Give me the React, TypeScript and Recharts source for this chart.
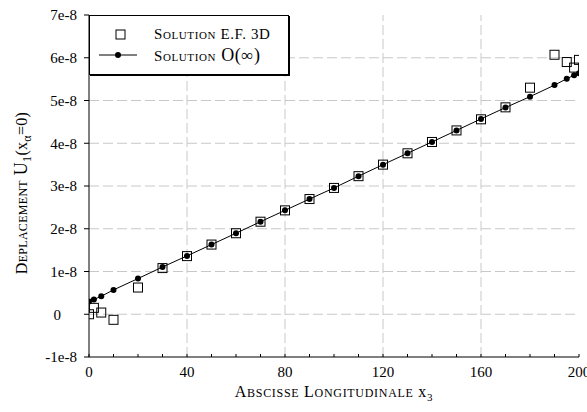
import React from 'react';
import { ComposedChart, Line, Scatter, XAxis, YAxis, ReferenceLine, Legend, Label } from 'recharts';

// abscissa positions (x3) shared by both series
const xPositions = [0, 2, 5, 10, 20, 30, 40, 50, 60, 70, 80, 90, 100, 110, 120, 130, 140, 150, 160, 170, 180, 190, 195, 198, 200];
// values in units of 1e-8
const solutionInf = [0.30, 0.345, 0.42, 0.57, 0.835, 1.105, 1.365, 1.63, 1.895, 2.165, 2.43, 2.695, 2.955, 3.23, 3.50, 3.765, 4.03, 4.30, 4.57, 4.835, 5.09, 5.36, 5.51, 5.59, 5.64];
const solutionFE = [0.0, 0.15, 0.04, -0.13, 0.625, 1.08, 1.36, 1.63, 1.895, 2.165, 2.43, 2.695, 2.955, 3.23, 3.50, 3.765, 4.03, 4.30, 4.56, 4.84, 5.30, 6.07, 5.90, 5.77, 5.95];

const xTickLabels = [0, 40, 80, 120, 160, 200];
const xMinorTicks = [0, 10, 20, 30, 40, 50, 60, 70, 80, 90, 100, 110, 120, 130, 140, 150, 160, 170, 180, 190, 200];
const yTickLabels = [-1, 0, 1, 2, 3, 4, 5, 6, 7];
const yMinorTicks = [-1, -0.75, -0.5, -0.25, 0, 0.25, 0.5, 0.75, 1, 1.25, 1.5, 1.75, 2, 2.25, 2.5, 2.75, 3, 3.25, 3.5, 3.75, 4, 4.25, 4.5, 4.75, 5, 5.25, 5.5, 5.75, 6, 6.25, 6.5, 6.75, 7];
const xGrid = [40, 80, 120, 160];
const yGrid = [0, 1, 2, 3, 4, 5, 6];

const lineData = xPositions.map((x, i) => ({ x, y: solutionInf[i] }));
const feData = xPositions.map((x, i) => ({ x, y: solutionFE[i] }));

const FONT = '"Liberation Serif", "Times New Roman", Times, serif';
const GRID = '#c8c8c8';

const XTick = (props: any) => {
  const { x, y, payload } = props;
  if (!xTickLabels.includes(payload.value)) return <g />;
  return (
    <text x={x} y={y} dy="0.71em" textAnchor="middle" fontSize={15} fontFamily={FONT} fill="#000">
      {payload.value}
    </text>
  );
};

const YTick = (props: any) => {
  const { x, y, payload } = props;
  const v = payload.value;
  const label = v === 0 ? '0' : `${v}e-8`;
  return (
    <text x={x} y={y} dx={v === 0 ? -16 : 0} dy="0.35em" textAnchor="end" fontSize={15} fontFamily={FONT} fill="#000">
      {label}
    </text>
  );
};

const XTitle = (props: any) => {
  const vb = props.viewBox || { x: 0, y: 0, width: 0, height: 0 };
  return (
    <text x={vb.x + vb.width / 2} y={vb.y + 40} textAnchor="middle" fontFamily={FONT} fontSize={16} fill="#000" letterSpacing={0.7}>
      <tspan>A</tspan>
      <tspan fontSize={12}>BSCISSE</tspan>
      <tspan> L</tspan>
      <tspan fontSize={12}>ONGITUDINALE</tspan>
      <tspan> x</tspan>
      <tspan fontSize={11} dy={4}>3</tspan>
    </text>
  );
};

const YTitle = (props: any) => {
  const vb = props.viewBox || { x: 0, y: 0, width: 0, height: 0 };
  const cx = vb.x + 27;
  const cy = vb.y + vb.height / 2 + 7;
  return (
    <text transform={`translate(${cx},${cy}) rotate(-90)`} textAnchor="middle" fontFamily={FONT} fontSize={16} fill="#000" letterSpacing={0.3}>
      <tspan>D</tspan>
      <tspan fontSize={12}>EPLACEMENT</tspan>
      <tspan fontSize={18}> U</tspan>
      <tspan fontSize={12} dy={4}>1</tspan>
      <tspan fontSize={16} dy={-4}>(x</tspan>
      <tspan fontSize={12} dy={4}>α</tspan>
      <tspan fontSize={16} dy={-4}>=0)</tspan>
    </text>
  );
};

const LegendBox = () => (
  <div
    style={{
      width: 200,
      height: 60,
      border: '1px solid #000',
      boxShadow: '1px 1px 0 #000',
      background: '#fff',
      boxSizing: 'border-box',
    }}
  >
    <svg width={198} height={58} style={{ display: 'block' }}>
      <rect x={26} y={14} width={9} height={9} fill="none" stroke="#000" strokeWidth={1} />
      <line x1={9} y1={39} x2={47} y2={39} stroke="#000" strokeWidth={1} />
      <circle cx={28} cy={39} r={3} fill="#000" />
      <text x={64} y={23} fontFamily={FONT} fontSize={15} fill="#000" letterSpacing={0.6}>
        <tspan>S</tspan>
        <tspan fontSize={11}>OLUTION</tspan>
        <tspan> E.F. 3D</tspan>
      </text>
      <text x={64} y={45} fontFamily={FONT} fontSize={15} fill="#000" letterSpacing={0.6}>
        <tspan>S</tspan>
        <tspan fontSize={11}>OLUTION</tspan>
        <tspan fontSize={18}> O(</tspan>
        <tspan fontSize={17}>∞</tspan>
        <tspan fontSize={18}>)</tspan>
      </text>
    </svg>
  </div>
);

export default function App() {
  return (
    <div style={{ position: 'absolute', left: 0, top: 0, width: 587, height: 412, overflow: 'hidden', background: '#fff' }}>
      <ComposedChart width={587} height={412} margin={{ top: 15, right: 8, bottom: 0, left: 0 }}>
        <XAxis
          xAxisId="x"
          dataKey="x"
          type="number"
          domain={[0, 200]}
          allowDataOverflow
          ticks={xMinorTicks}
          interval={0}
          tickSize={-3}
          tickMargin={12}
          tick={<XTick />}
          height={55}
          axisLine={{ stroke: '#000' }}
          tickLine={{ stroke: '#000' }}
        >
          <Label content={<XTitle />} />
        </XAxis>
        <XAxis
          xAxisId="top"
          orientation="top"
          type="number"
          domain={[0, 200]}
          allowDataOverflow
          height={0}
          tick={false}
          tickLine={false}
          axisLine={{ stroke: '#000' }}
        />
        <YAxis
          yAxisId="yminor"
          type="number"
          domain={[-1, 7]}
          allowDataOverflow
          ticks={yMinorTicks}
          interval={0}
          width={0}
          tickSize={-3}
          tick={false}
          axisLine={false}
          tickLine={{ stroke: '#000' }}
        />
        <YAxis
          yAxisId="y"
          type="number"
          domain={[-1, 7]}
          allowDataOverflow
          ticks={yTickLabels}
          interval={0}
          width={89}
          tickSize={5}
          tickMargin={7}
          tick={<YTick />}
          axisLine={{ stroke: '#000' }}
          tickLine={{ stroke: '#000' }}
        >
          <Label content={<YTitle />} />
        </YAxis>
        <YAxis
          yAxisId="yr"
          orientation="right"
          type="number"
          domain={[-1, 7]}
          allowDataOverflow
          ticks={yMinorTicks}
          interval={0}
          width={0}
          tickSize={-3}
          tick={false}
          axisLine={{ stroke: '#000' }}
          tickLine={{ stroke: '#000' }}
        />
        {xGrid.map((v) => (
          <ReferenceLine key={`gx${v}`} x={v} xAxisId="x" yAxisId="y" stroke={GRID} strokeDasharray="10 4" strokeWidth={1} ifOverflow="hidden" />
        ))}
        {yGrid.map((v) => (
          <ReferenceLine key={`gy${v}`} y={v} xAxisId="x" yAxisId="y" stroke={GRID} strokeDasharray="10 4" strokeWidth={1} ifOverflow="hidden" />
        ))}
        <Scatter
          name="Solution E.F. 3D"
          data={feData}
          xAxisId="x"
          yAxisId="y"
          dataKey="y"
          isAnimationActive={false}
          shape={(p: any) => (
            <rect x={p.cx - 4.5} y={p.cy - 4.5} width={9} height={9} fill="none" stroke="#000" strokeWidth={1} />
          )}
        />
        <Line
          name="Solution O(∞)"
          data={lineData}
          xAxisId="x"
          yAxisId="y"
          dataKey="y"
          type="linear"
          stroke="#000"
          strokeWidth={1}
          dot={{ r: 3, fill: '#000', stroke: '#000', strokeWidth: 0 }}
          activeDot={false}
          isAnimationActive={false}
        />
        <Legend
          layout="horizontal"
          align="center"
          verticalAlign="middle"
          content={() => <LegendBox />}
          wrapperStyle={{ left: 89, top: 15, width: 200, height: 60, right: 'auto', bottom: 'auto' }}
        />
      </ComposedChart>
    </div>
  );
}
